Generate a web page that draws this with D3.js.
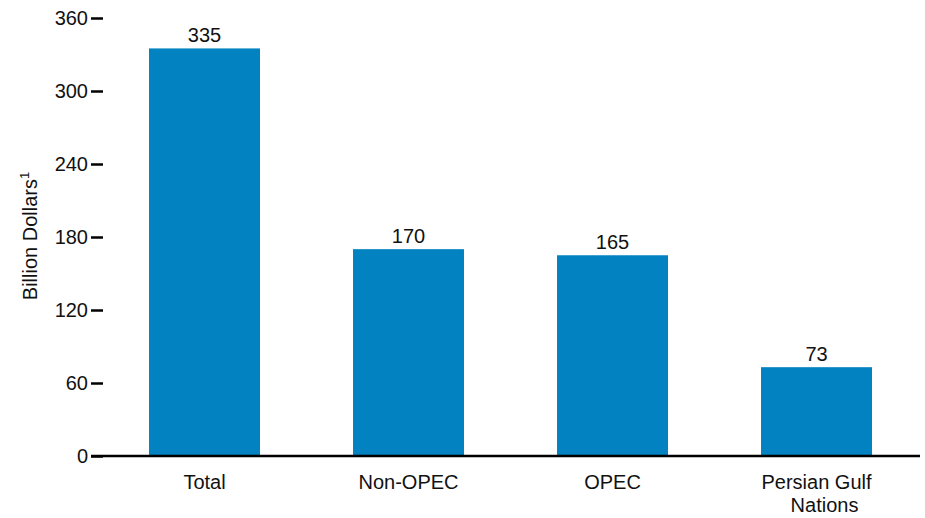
<!DOCTYPE html>
<html>
<head>
<meta charset="utf-8">
<script src="https://cdn.jsdelivr.net/npm/d3@7"></script>
<style>
  body { margin: 0; background: #fff; }
  text { font-family: "Liberation Sans", Arial, sans-serif; fill: #111; }
</style>
</head>
<body>
<div id="chart"></div>
<script>
// data
const categories = ["Total", "Non-OPEC", "OPEC", "Persian Gulf\nNations"];
const values = [335, 170, 165, 73];
const yTicks = [0, 60, 120, 180, 240, 300, 360];

const width = 925, height = 518;
const svg = d3.select("#chart").append("svg")
  .attr("width", width).attr("height", height);

const x = d3.scaleBand()
  .domain(categories)
  .range([102.5, 918.5])
  .paddingInner(0.456)
  .paddingOuter(0.228);

const y = d3.scaleLinear().domain([0, 360]).range([456, 18]);

// bars
svg.selectAll(".bar")
  .data(values)
  .join("rect")
  .attr("class", "bar")
  .attr("x", (d, i) => x(categories[i]))
  .attr("width", x.bandwidth())
  .attr("y", d => y(d))
  .attr("height", d => y(0) - y(d))
  .attr("fill", "#0382C1");

// value labels
svg.selectAll(".val")
  .data(values)
  .join("text")
  .attr("class", "val")
  .attr("x", (d, i) => x(categories[i]) + x.bandwidth() / 2)
  .attr("y", d => y(d) - 6)
  .attr("text-anchor", "middle")
  .attr("font-size", 20)
  .text(d => d);

// y axis
const yAxis = svg.append("g")
  .attr("transform", "translate(103,0)")
  .call(d3.axisLeft(y).tickValues(yTicks).tickSize(12).tickPadding(3));
yAxis.select(".domain").remove();
yAxis.selectAll(".tick line").attr("stroke", "#000").attr("stroke-width", 2.5);
yAxis.selectAll(".tick text").attr("font-size", 20).attr("fill", "#111")
  .attr("font-family", "Liberation Sans, Arial, sans-serif");

// baseline
svg.append("line")
  .attr("x1", 91).attr("x2", 920)
  .attr("y1", y(0)).attr("y2", y(0))
  .attr("stroke", "#000").attr("stroke-width", 2.5);

// category labels
svg.selectAll(".cat")
  .data(categories)
  .join("text")
  .attr("class", "cat")
  .attr("text-anchor", "middle")
  .attr("font-size", 20)
  .attr("y", 489)
  .each(function(d) {
    const cx = x(d) + x.bandwidth() / 2;
    d.split("\n").forEach((line, i) => {
      d3.select(this).append("tspan")
        .attr("x", cx + (i > 0 ? 8 : 0))
        .attr("dy", i === 0 ? 0 : 23)
        .text(line);
    });
  });

// y title
const yt = svg.append("text")
  .attr("transform", "translate(37,236) rotate(-90)")
  .attr("text-anchor", "middle")
  .attr("font-size", 20);
yt.append("tspan").text("Billion Dollars");
yt.append("tspan").attr("font-size", 13).attr("dy", -8).text("1");
</script>
</body>
</html>
